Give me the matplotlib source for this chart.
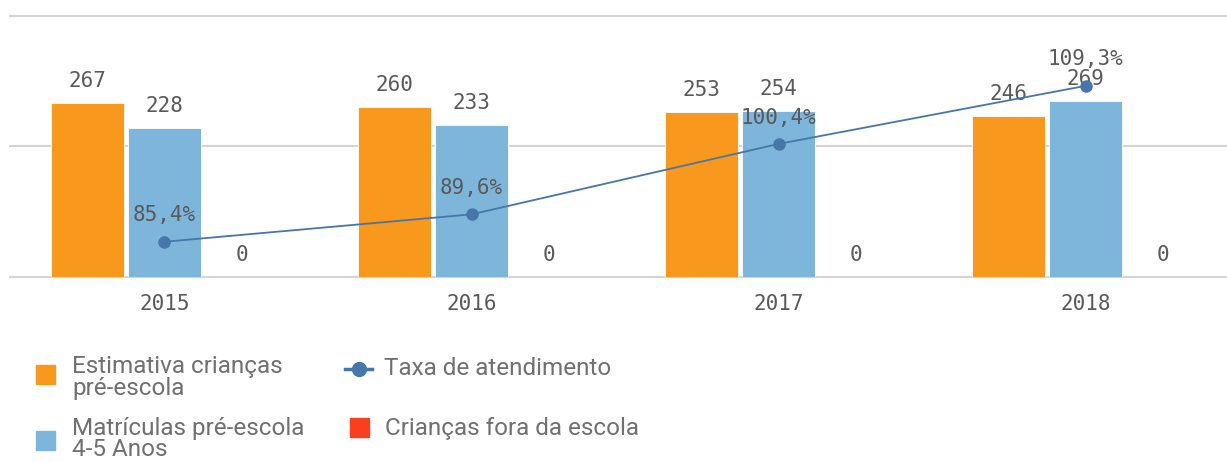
import numpy as np
import matplotlib.pyplot as plt
from matplotlib.patches import Rectangle
from matplotlib.lines import Line2D

anos = ['2015', '2016', '2017', '2018']
estimativa = [267, 260, 253, 246]
matriculas = [228, 233, 254, 269]
fora_escola = [0, 0, 0, 0]
taxa = [85.4, 89.6, 100.4, 109.3]

cor_laranja = '#f8981d'
cor_azul = '#7db6da'
cor_vermelho = '#f8401e'
cor_linha = '#4676aa'
cor_texto = '#595959'
cor_legenda = '#707070'
fonte_num = 'DejaVu Sans Mono'
fonte_leg = 'Roboto'

W, H = 1227, 462
x = np.arange(len(anos))
larg = 0.238
passo = 0.251

fig = plt.figure(figsize=(W/100, H/100), dpi=100)
ax = fig.add_axes([10/W, 185/H, 1217/W, 261/H])

for v in [0, 200, 400]:
    ax.axhline(v, color='#d4d4d4', lw=1.5, zorder=0, clip_on=False)

b1 = ax.bar(x - passo, estimativa, larg, color=cor_laranja, edgecolor='white', lw=0.6, zorder=2)
b2 = ax.bar(x, matriculas, larg, color=cor_azul, edgecolor='white', lw=0.6, zorder=2)
b3 = ax.bar(x + passo, fora_escola, larg, color=cor_vermelho, zorder=2)

for barras, vals in [(b1, estimativa), (b2, matriculas), (b3, fora_escola)]:
    for r, v in zip(barras, vals):
        ax.annotate(str(v), (r.get_x() + r.get_width()/2, v), xytext=(0, 16),
                    textcoords='offset points', ha='center', va='center',
                    fontsize=15, family=fonte_num, color=cor_texto, zorder=5)

ax.set_xlim(-0.503, 3.46)
ax.set_ylim(0, 400)
ax.set_yticks([])
ax.set_xticks(x)
ax.set_xticklabels(anos, family=fonte_num, fontsize=15, color=cor_texto)
ax.tick_params(axis='x', length=0, pad=12)
for s in ax.spines.values():
    s.set_visible(False)

ax2 = ax.twinx()
ax2.plot(x, taxa, color=cor_linha, lw=1.3, marker='o', ms=8, zorder=4)
for xi, t in zip(x, taxa):
    ax2.annotate(f'{t:.1f}%'.replace('.', ','), (xi, t), xytext=(0, 19),
                 textcoords='offset points', ha='center', va='center',
                 fontsize=15, family=fonte_num, color=cor_texto)
ax2.set_ylim(80, 120)
ax2.set_yticks([])
for s in ax2.spines.values():
    s.set_visible(False)

# legenda montada a mao (pixels a partir do topo)
def fx(p):
    return p / W

def fy(p):
    return 1 - p / H

def quadrado(cx, cy, cor, lado=19):
    fig.add_artist(Rectangle((fx(cx - lado/2), fy(cy + lado/2)), lado/W, lado/H,
                             transform=fig.transFigure, color=cor))

def texto(xp, linhas, base, passo_linha=22):
    for i, l in enumerate(linhas):
        fig.text(fx(xp), fy(base + i*passo_linha), l, family=fonte_leg, fontsize=17.5,
                 color=cor_legenda, va='baseline', ha='left')

quadrado(45, 374, cor_laranja)
texto(72, ['Estimativa crianças', 'pré-escola'], 373)
quadrado(45, 440, cor_azul)
texto(72, ['Matrículas pré-escola', '4-5 Anos'], 435, 21)

fig.add_artist(Line2D([fx(345), fx(372)], [fy(369), fy(369)], transform=fig.transFigure,
                      color=cor_linha, lw=2.5))
fig.add_artist(Line2D([fx(358.5)], [fy(369)], transform=fig.transFigure,
                      color=cor_linha, marker='o', ms=10, lw=0))
texto(384, ['Taxa de atendimento'], 375)
quadrado(359, 427, cor_vermelho)
texto(385, ['Crianças fora da escola'], 435)

fig.savefig('out.png', dpi=100)
